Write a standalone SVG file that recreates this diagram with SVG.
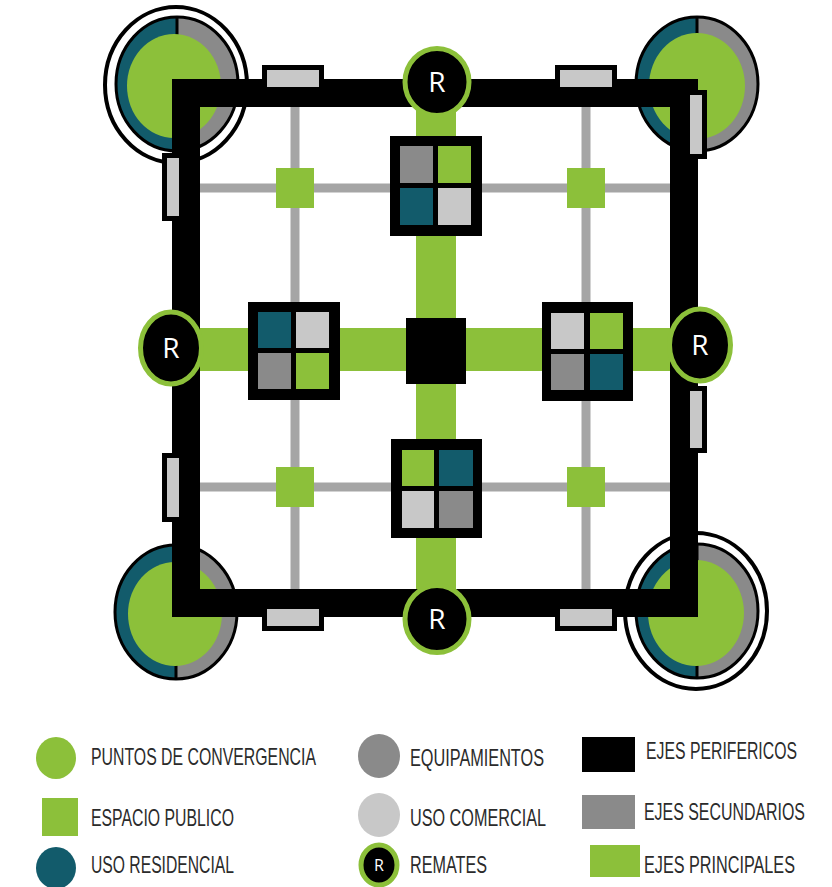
<svg xmlns="http://www.w3.org/2000/svg" width="832" height="887" viewBox="0 0 832 887">
  <defs>
    <style>
      .green { fill: #8cc03a; }
      .teal { fill: #125b6b; }
      .grey { fill: #8a8a8a; }
      .light { fill: #c8c8c8; }
      .black { fill: #000; }
      .grid { stroke: #a5a5a5; stroke-width: 9; fill: none; }
      .frame { stroke: #000; stroke-width: 28; fill: none; }
      .box { fill: #c8c8c8; stroke: #000; stroke-width: 5; }
      .ring { fill: #fff; stroke: #000; stroke-width: 4; }
      .pie-edge { fill: none; stroke: #000; stroke-width: 3; }
      .remate { fill: #000; stroke: #8cc03a; stroke-width: 5; }
      .r-label { fill: #fff; font-family: "Open Sans", "Liberation Sans", sans-serif; font-size: 28px; text-anchor: middle; }
      .legend { fill: #2b2b2b; font-family: "Liberation Sans", Arial, sans-serif; font-size: 23px; }
    </style>
    <!-- convergence point: teal half, grey half, green core -->
    <g id="pie">
      <path class="teal" d="M0,-67 A61,67 0 0 0 0,67 Z"/>
      <path class="grey" d="M0,-67 A61,67 0 0 1 0,67 Z"/>
      <line x1="0" y1="-67" x2="0" y2="67" stroke="#000" stroke-width="3"/>
      <ellipse class="pie-edge" cx="0" cy="0" rx="61" ry="67"/>
    </g>
  </defs>

  <rect width="832" height="887" fill="#fff"/>

  <!-- corner convergence points -->
  <g id="corner-tl">
    <ellipse class="ring" cx="176" cy="85" rx="71" ry="78"/>
    <use href="#pie" x="177" y="84"/>
    <ellipse class="green" cx="174" cy="86" rx="47" ry="52"/>
  </g>
  <g id="corner-tr">
    <use href="#pie" x="697" y="84"/>
    <ellipse class="green" cx="697" cy="86" rx="48" ry="53"/>
  </g>
  <g id="corner-bl">
    <use href="#pie" x="176" y="612"/>
    <ellipse class="green" cx="175" cy="614" rx="47" ry="52"/>
  </g>
  <g id="corner-br">
    <ellipse class="ring" cx="696" cy="611" rx="71" ry="78"/>
    <use href="#pie" x="697" y="611"/>
    <ellipse class="green" cx="696" cy="613" rx="48" ry="53"/>
  </g>

  <!-- axes -->
  <g id="connectors">
    <g id="ejes-secundarios">
      <line class="grid" x1="295" y1="93" x2="295" y2="603"/>
      <line class="grid" x1="586" y1="93" x2="586" y2="603"/>
      <line class="grid" x1="186" y1="188" x2="684" y2="188"/>
      <line class="grid" x1="186" y1="487" x2="684" y2="487"/>
    </g>
    <g id="ejes-principales">
      <rect class="green" x="416" y="82" width="40" height="537"/>
      <rect class="green" x="171" y="328" width="529" height="43"/>
    </g>
    <g id="ejes-perifericos">
      <rect class="frame" x="186" y="93" width="498" height="510"/>
    </g>
  </g>

  <!-- boxes along the perimeter -->
  <g id="perimeter-boxes">
    <rect class="box" x="264.5" y="67.5" width="57" height="22"/>
    <rect class="box" x="557.5" y="67.5" width="57" height="22"/>
    <rect class="box" x="264.5" y="606.5" width="57" height="22"/>
    <rect class="box" x="557.5" y="606.5" width="57" height="22"/>
    <rect class="box" x="164.5" y="155.5" width="17" height="63"/>
    <rect class="box" x="164.5" y="455.5" width="17" height="64"/>
    <rect class="box" x="687.5" y="92.5" width="17" height="64"/>
    <rect class="box" x="687.5" y="388.5" width="17" height="62"/>
  </g>

  <!-- remates -->
  <g id="remate-top">
    <ellipse class="remate" cx="437" cy="82" rx="32" ry="33.5"/>
    <text class="r-label" x="437" y="92">R</text>
  </g>
  <g id="remate-left">
    <ellipse class="remate" cx="171" cy="348" rx="30.5" ry="36"/>
    <text class="r-label" x="171" y="358">R</text>
  </g>
  <g id="remate-right">
    <ellipse class="remate" cx="700" cy="345" rx="30.5" ry="36"/>
    <text class="r-label" x="700" y="355">R</text>
  </g>
  <g id="remate-bottom">
    <ellipse class="remate" cx="437" cy="619" rx="32" ry="33.5"/>
    <text class="r-label" x="437" y="629">R</text>
  </g>

  <!-- public spaces at grid crossings -->
  <g id="espacio-tl"><rect class="green" x="276" y="168" width="38" height="40"/></g>
  <g id="espacio-tr"><rect class="green" x="567" y="168" width="38" height="40"/></g>
  <g id="espacio-bl"><rect class="green" x="276" y="467" width="38" height="40"/></g>
  <g id="espacio-br"><rect class="green" x="567" y="467" width="38" height="40"/></g>

  <!-- mixed-use blocks -->
  <g id="block-top" transform="translate(390,136)">
    <rect class="black" width="92" height="100"/>
    <rect class="grey" x="10" y="10" width="33" height="37"/>
    <rect class="green" x="48" y="10" width="33" height="37"/>
    <rect class="teal" x="10" y="52" width="33" height="37"/>
    <rect class="light" x="48" y="52" width="33" height="37"/>
  </g>
  <g id="block-left" transform="translate(248,302)">
    <rect class="black" width="92" height="98"/>
    <rect class="teal" x="10" y="10" width="33" height="36"/>
    <rect class="light" x="48" y="10" width="33" height="36"/>
    <rect class="grey" x="10" y="51" width="33" height="36"/>
    <rect class="green" x="48" y="51" width="33" height="36"/>
  </g>
  <g id="block-right" transform="translate(542,302)">
    <rect class="black" width="91" height="99"/>
    <rect class="light" x="9" y="11" width="33" height="36"/>
    <rect class="green" x="48" y="11" width="33" height="36"/>
    <rect class="grey" x="9" y="52" width="33" height="36"/>
    <rect class="teal" x="48" y="52" width="33" height="36"/>
  </g>
  <g id="block-bottom" transform="translate(391,439)">
    <rect class="black" width="91" height="99"/>
    <rect class="green" x="11" y="11" width="32" height="36"/>
    <rect class="teal" x="48" y="11" width="34" height="36"/>
    <rect class="light" x="11" y="52" width="32" height="37"/>
    <rect class="grey" x="48" y="52" width="34" height="37"/>
  </g>

  <g id="center">
    <rect class="black" x="406" y="318" width="60" height="66"/>
  </g>

  <!-- legend -->
  <g id="legend">
    <ellipse class="green" cx="56" cy="758" rx="20" ry="21"/>
    <rect class="green" x="42" y="798" width="36" height="38"/>
    <ellipse class="teal" cx="56" cy="868" rx="20" ry="21"/>

    <ellipse class="grey" cx="379" cy="756" rx="21" ry="22"/>
    <ellipse class="light" cx="379" cy="815" rx="21" ry="22"/>
    <ellipse class="remate" cx="379" cy="865" rx="18" ry="20"/>
    <text x="379" y="871" fill="#fff" font-family="'Open Sans', 'Liberation Sans', sans-serif" font-size="16" text-anchor="middle">R</text>

    <rect class="black" x="582" y="737" width="53" height="35"/>
    <rect class="grey" x="582" y="795" width="53" height="34"/>
    <rect class="green" x="590" y="845" width="50" height="32"/>

    <!-- condensed labels: horizontal squeeze of the sans face -->
    <g transform="scale(0.75,1)">
      <text class="legend" x="121.33" y="765" textLength="300" lengthAdjust="spacingAndGlyphs">PUNTOS DE CONVERGENCIA</text>
      <text class="legend" x="121.33" y="826" textLength="190.67" lengthAdjust="spacingAndGlyphs">ESPACIO PUBLICO</text>
      <text class="legend" x="121.33" y="873" textLength="190.67" lengthAdjust="spacingAndGlyphs">USO RESIDENCIAL</text>
      <text class="legend" x="546.67" y="766" textLength="178.67" lengthAdjust="spacingAndGlyphs">EQUIPAMIENTOS</text>
      <text class="legend" x="546.67" y="826" textLength="181.33" lengthAdjust="spacingAndGlyphs">USO COMERCIAL</text>
      <text class="legend" x="546.67" y="873" textLength="102.67" lengthAdjust="spacingAndGlyphs">REMATES</text>
      <text class="legend" x="861.33" y="759" textLength="201.33" lengthAdjust="spacingAndGlyphs">EJES PERIFERICOS</text>
      <text class="legend" x="858.67" y="820" textLength="214.67" lengthAdjust="spacingAndGlyphs">EJES SECUNDARIOS</text>
      <text class="legend" x="858.67" y="873" textLength="201.33" lengthAdjust="spacingAndGlyphs">EJES PRINCIPALES</text>
    </g>
  </g>
</svg>
